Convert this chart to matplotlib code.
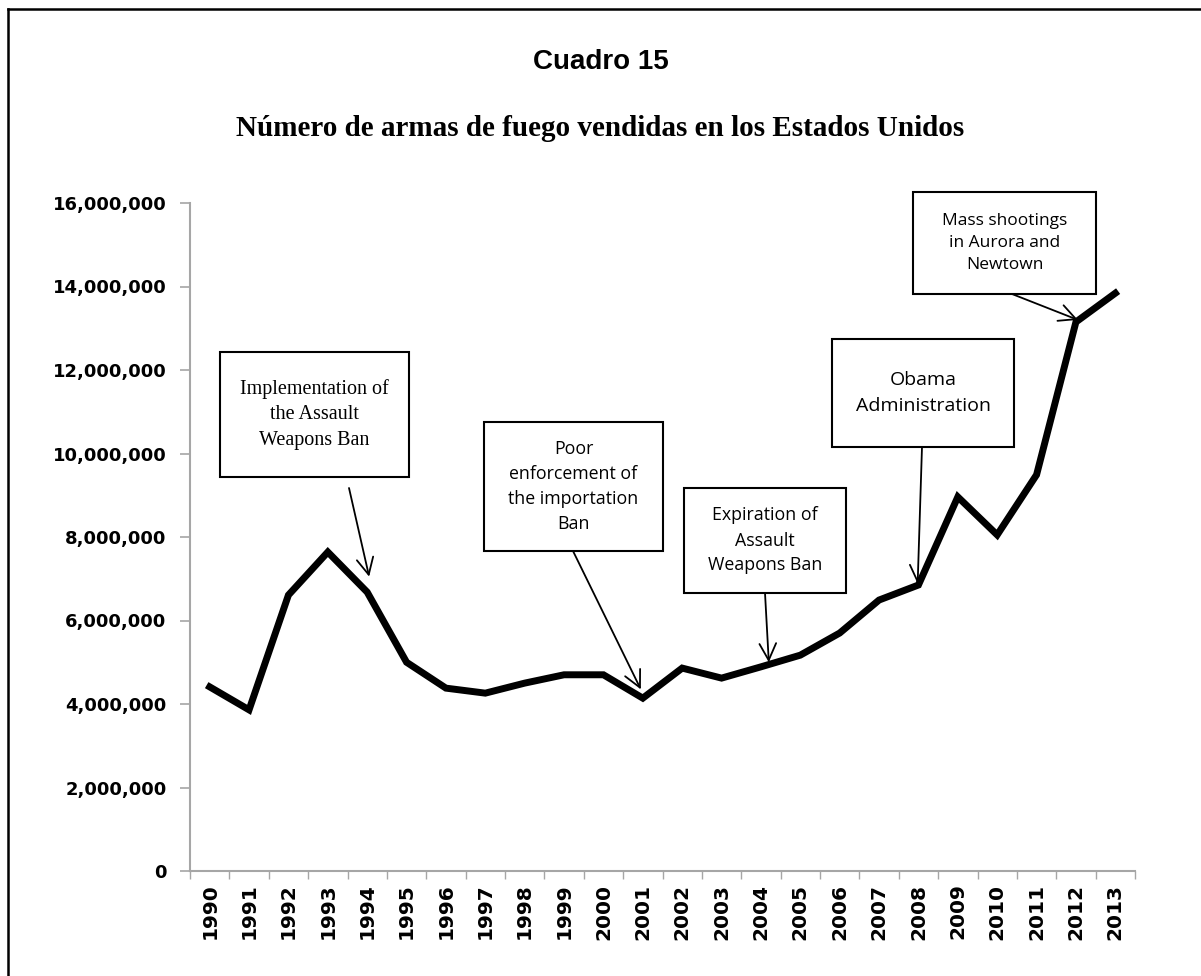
import matplotlib
matplotlib.use("Agg")
import matplotlib.pyplot as plt
from matplotlib.patches import Rectangle
from matplotlib.lines import Line2D
from matplotlib.ticker import FuncFormatter, FixedLocator

# Data
years = [str(y) for y in range(1990, 2014)]
sales = [4.41e6, 3.86e6, 6.61e6, 7.64e6, 6.68e6, 5.00e6, 4.38e6, 4.26e6,
         4.50e6, 4.70e6, 4.70e6, 4.14e6, 4.86e6, 4.62e6, 4.89e6, 5.17e6,
         5.70e6, 6.49e6, 6.85e6, 8.96e6, 8.05e6, 9.49e6, 13.15e6, 13.84e6]
y_ticks = [0, 2e6, 4e6, 6e6, 8e6, 10e6, 12e6, 14e6, 16e6]

# Callouts: text, box in pixels (left, top, right, bottom), arrow start (px), arrow tip (x index, value), font, size, spacing
notes = [
    ("Implementation of\nthe Assault\nWeapons Ban", (220, 352, 409, 477), (349, 488), (4.05, 7.05e6), "Liberation Serif", 14.5, 1.45),
    ("Poor\nenforcement of\nthe importation\nBan", (484, 422, 663, 551), (573, 551), (10.95, 4.35e6), "Open Sans", 12.8, 1.5),
    ("Expiration of\nAssault\nWeapons Ban", (684, 488, 846, 593), (765, 593), (14.2, 5.0e6), "Open Sans", 12.8, 1.5),
    ("Obama\nAdministration", (832, 339, 1014, 447), (922, 447), (17.98, 6.88e6), "Open Sans", 14, 1.6),
    ("Mass shootings\nin Aurora and\nNewtown", (913, 192, 1096, 294), (1012, 294), (22.05, 13.2e6), "Open Sans", 12.5, 1.5),
]

W, H = 1201, 976
fig = plt.figure(figsize=(W / 100, H / 100), dpi=100)


def fx(px):
    return px / W


def fy(py):
    return 1 - py / H


# page frame (top and left edges only)
fig.add_artist(Line2D([fx(8), fx(8)], [fy(9), 0], color="black", lw=1.8))
fig.add_artist(Line2D([fx(8), 1], [fy(9), fy(9)], color="black", lw=1.8))

fig.text(0.5, fy(62), "Cuadro 15", ha="center", va="center",
         fontsize=20, fontweight="bold", family="Liberation Sans")
fig.text(0.5, fy(129), "Número de armas de fuego vendidas en los Estados Unidos",
         ha="center", va="center", fontsize=21, fontweight="bold", family="Liberation Serif")

ax = fig.add_axes([fx(190), fy(871), fx(1135) - fx(190), fy(203) - fy(871)])
x = list(range(len(years)))
ax.plot(x, sales, color="black", lw=5, solid_joinstyle="miter", zorder=3)

ax.set_xlim(-0.5, len(years) - 0.5)
ax.set_ylim(0, 16e6)
ax.set_yticks(y_ticks)
ax.yaxis.set_major_formatter(FuncFormatter(lambda v, p: f"{int(v):,}"))
ax.set_xticks(x)
ax.set_xticklabels(years, rotation=90)
ax.xaxis.set_minor_locator(FixedLocator([i - 0.5 for i in range(len(years) + 1)]))

for s in ["top", "right"]:
    ax.spines[s].set_visible(False)
for s in ["left", "bottom"]:
    ax.spines[s].set_color("#a6a6a6")
    ax.spines[s].set_linewidth(1.5)

ax.tick_params(axis="y", length=7, width=1.2, color="#a6a6a6", pad=10)
ax.tick_params(axis="x", which="major", length=0, pad=9)
ax.tick_params(axis="x", which="minor", length=6, width=1, color="#a6a6a6")
for lab in ax.get_yticklabels():
    lab.set_fontweight("bold")
    lab.set_fontsize(13)
    lab.set_family("DejaVu Sans")
for lab in ax.get_xticklabels():
    lab.set_fontweight("bold")
    lab.set_fontsize(14.5)
    lab.set_family("DejaVu Sans")

for text, (l, t, r, b), (sx, sy), tip, fam, fs, ls in notes:
    fig.add_artist(Rectangle((fx(l), fy(b)), fx(r) - fx(l), fy(t) - fy(b),
                             facecolor="white", edgecolor="black", lw=1.5, zorder=4))
    fig.text(fx((l + r) / 2), fy((t + b) / 2), text, ha="center", va="center",
             fontsize=fs, family=fam, linespacing=ls, zorder=5)
    ax.annotate("", xy=tip, xycoords="data", xytext=(fx(sx), fy(sy)),
                textcoords="figure fraction",
                arrowprops=dict(arrowstyle="->", lw=1.3, color="black",
                                mutation_scale=30, shrinkA=0, shrinkB=0),
                zorder=4)

fig.savefig("out.png", dpi=100)
